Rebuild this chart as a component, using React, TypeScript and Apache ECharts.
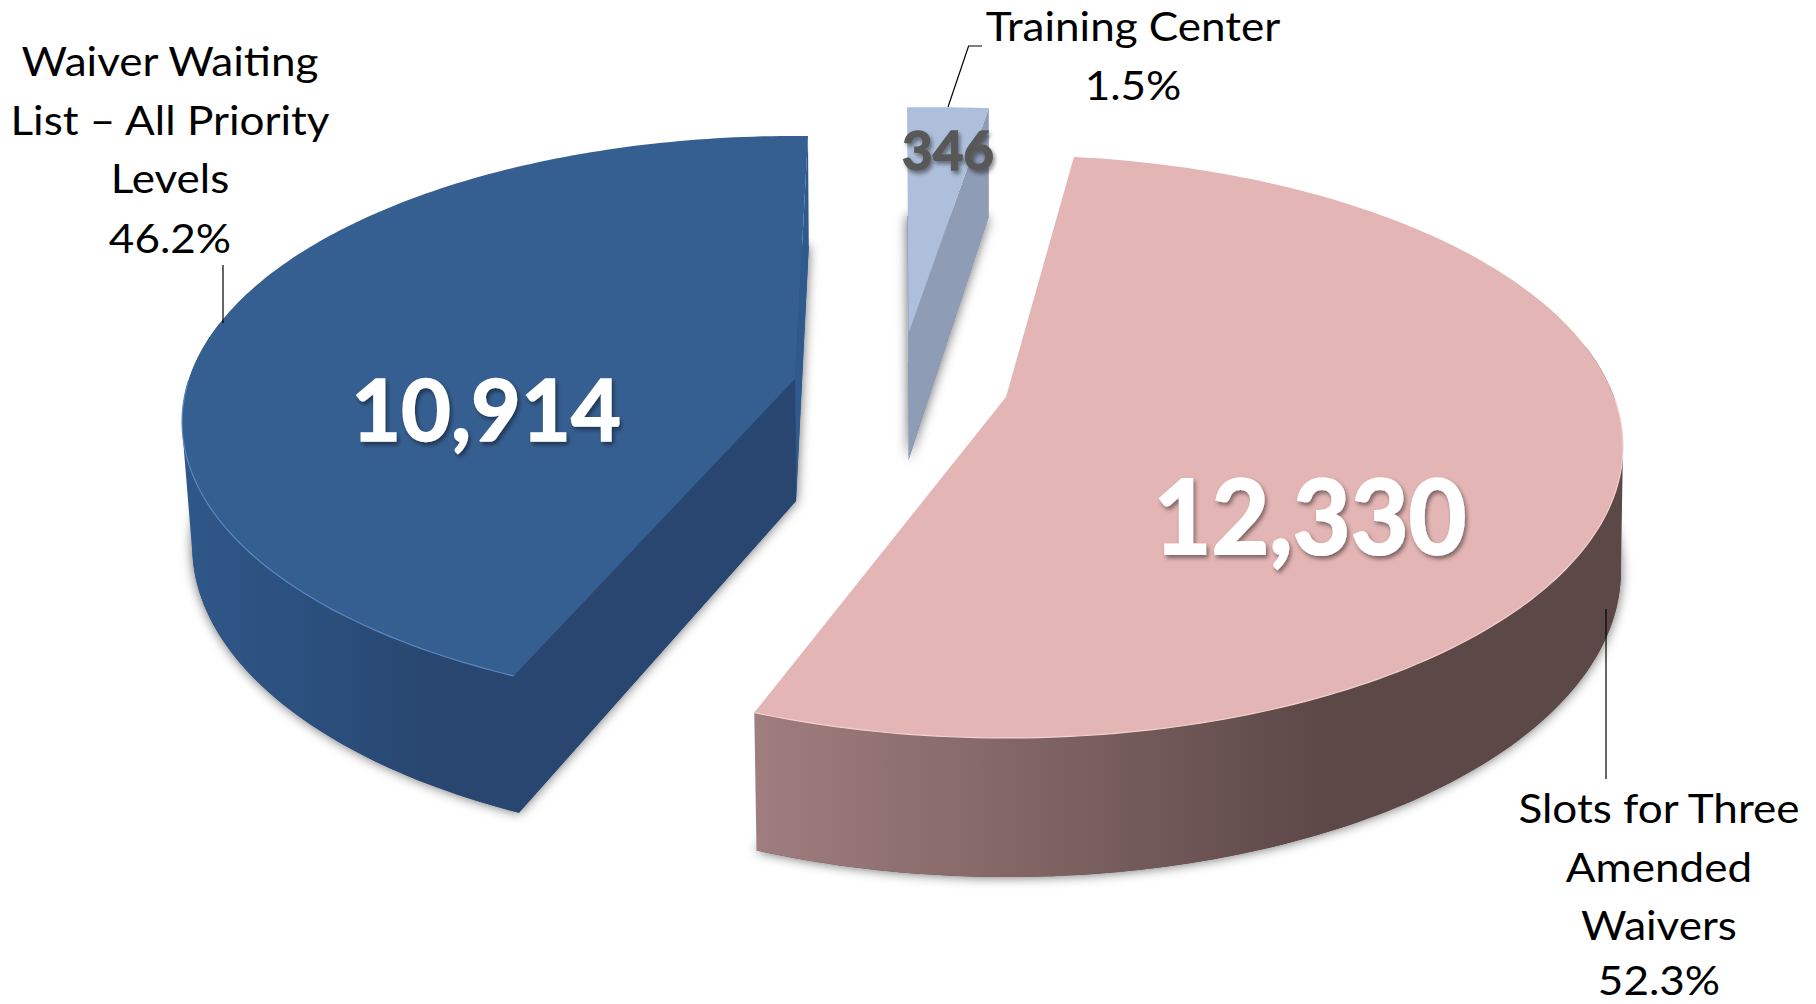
import React, { useEffect, useRef } from "react";
import * as echarts from "echarts";

const categories = ["Waiver Waiting\nList – All Priority\nLevels", "Training Center", "Slots for Three\nAmended\nWaivers"];
const values = [10914, 346, 12330];
const percents = ["46.2%", "1.5%", "52.3%"];

const total = values.reduce((a, b) => a + b, 0);

const sliceStyles = [
  {
    cx: 795, cy: 379, rx: 606, ry: 279.5, k: 0.15, start: 203.6, stretch: 0.9475,
    bx: 796, by: 501, fx: 0.985, fy: 1.05,
    top: "#365f91", rim: "#5b88c0",
    wall: ["#2f5789", "#2b4f7d", "#28466f"],
    wallStops: [0, 0.4, 0.75],
    radial: [{ at: "end", color: "#2f5a8d" }, { at: "start", color: "#28466f" }],
    value: { x: 486, y: 407, size: 86, color: "#ffffff", sx: 1, border: 1.5 },
    label: { x: 170, y: 119 }, pct: { x: 170, y: 237 },
    leader: [[223, 265], [223, 323]],
  },
  {
    cx: 908.6, cy: 333, rx: 1030, ry: 262, k: 0.16, start: -0.1, stretch: 1,
    bx: 908.6, by: 460, fx: 1, fy: 1.08,
    top: "#adbfdb", rim: "",
    wall: ["#8f9cb6", "#8f9cb6", "#8f9cb6"],
    wallStops: [0, 0.4, 0.75],
    radial: [{ at: "end", color: "#8f9cb6" }],
    value: { x: 948, y: 149, size: 54, color: "#595959", sx: 0.98, border: 1.5 },
    label: { x: 1133, y: 25 }, pct: { x: 1133, y: 84 },
    leader: [[982, 46], [968.6, 46], [948, 107]],
  },
  {
    cx: 1006, cy: 397, rx: 608, ry: 283, k: 0.17, start: 7.5, stretch: 1.025,
    bx: 1007, by: 519, fx: 0.995, fy: 1.05,
    top: "#e3b5b4", rim: "#f3d2d1",
    wall: ["#a07d7e", "#876a6a", "#5c4847"],
    wallStops: [0, 0.25, 0.66],
    radial: [],
    value: { x: 1310, y: 514, size: 104, color: "#ffffff", sx: 0.96, border: 2 },
    label: { x: 1659, y: 866 }, pct: { x: 1659, y: 979 },
    leader: [[1606, 609], [1606, 779]],
  },
];

const FONT = "Lato, 'Open Sans', sans-serif";
const LABEL_SIZE = 41;
const LABEL_SX = 1.074;

function convexHull(pts: number[][]) {
  const p = pts.slice().sort((a, b) => a[0] - b[0] || a[1] - b[1]);
  const cross = (o: number[], a: number[], b: number[]) =>
    (a[0] - o[0]) * (b[1] - o[1]) - (a[1] - o[1]) * (b[0] - o[0]);
  const lower: number[][] = [];
  for (const q of p) {
    while (lower.length >= 2 && cross(lower[lower.length - 2], lower[lower.length - 1], q) <= 0) lower.pop();
    lower.push(q);
  }
  const upper: number[][] = [];
  for (const q of p.slice().reverse()) {
    while (upper.length >= 2 && cross(upper[upper.length - 2], upper[upper.length - 1], q) <= 0) upper.pop();
    upper.push(q);
  }
  lower.pop();
  upper.pop();
  return lower.concat(upper);
}

function renderSlice(params: any, api: any) {
  const i = params.dataIndex;
  const g = sliceStyles[i];
  const val = api.value(0);
  const sweep = (val / total) * 360 * g.stretch;
  const offset = (deg: number) => {
    const t = (deg * Math.PI) / 180;
    const u = Math.sin(t);
    const v = -Math.cos(t);
    const s = 1 / (1 - g.k * v);
    return { dx: g.rx * u * s, dy: g.ry * v * s, v };
  };
  const topPt = (deg: number) => {
    const o = offset(deg);
    return [g.cx + o.dx, g.cy + o.dy];
  };
  const botPt = (deg: number) => {
    const o = offset(deg);
    return [g.bx + o.dx * g.fx, g.by + o.dy * g.fy];
  };
  const steps = Math.max(4, Math.ceil(sweep));
  const angles: number[] = [];
  for (let n = 0; n <= steps; n++) angles.push(g.start + (sweep * n) / steps);
  const end = g.start + sweep;

  const children: any[] = [];
  // shadow + bottom face
  children.push({
    type: "polygon",
    shape: { points: [[g.bx, g.by], ...angles.map(botPt)] },
    style: { fill: g.wall[2], shadowBlur: 12, shadowColor: "rgba(0,0,0,0.6)" },
  });
  // outer curved wall (front part): hull of both rims gives the true silhouette
  const front = angles.filter((a) => offset(a).v > -0.2);
  if (front.length > 1) {
    const stops = g.wall.map((c: string, n: number) => ({ offset: g.wallStops[n], color: c }));
    children.push({
      type: "polygon",
      shape: { points: convexHull([...front.map(topPt), ...front.map(botPt)]) },
      style: { fill: new echarts.graphic.LinearGradient(0, 0, 1, 0, stops) },
    });
  }
  // radial walls
  g.radial.forEach((w: any) => {
    const deg = w.at === "start" ? g.start : end;
    children.push({
      type: "polygon",
      shape: { points: [[g.cx, g.cy], topPt(deg), botPt(deg), [g.bx, g.by]] },
      style: { fill: w.color },
    });
  });
  // top face
  children.push({
    type: "polygon",
    shape: { points: [[g.cx, g.cy], ...angles.map(topPt)] },
    style: { fill: g.top },
  });
  // bevel along the front rim
  if (g.rim) {
    const rimAngles = angles.filter((a) => offset(a).v > 0);
    children.push({
      type: "polyline",
      shape: { points: rimAngles.map(topPt) },
      style: { fill: "none", stroke: g.rim, lineWidth: 1.2 },
    });
  }
  // leader line
  children.push({
    type: "polyline",
    shape: { points: g.leader },
    style: { fill: "none", stroke: "#000000", lineWidth: 1.2 },
  });
  // value label
  children.push({
    type: "text",
    x: g.value.x,
    y: g.value.y,
    scaleX: g.value.sx,
    style: {
      text: val.toLocaleString("en-US"),
      x: 0,
      y: 0,
      align: "center",
      verticalAlign: "middle",
      fontFamily: FONT,
      fontWeight: "bold",
      fontSize: g.value.size,
      fill: g.value.color,
      stroke: g.value.color,
      lineWidth: g.value.border,
      textShadowColor: "rgba(0,0,0,0.45)",
      textShadowBlur: 4,
      textShadowOffsetX: 2,
      textShadowOffsetY: 3,
    },
  });
  // category label + percent
  children.push({
    type: "text",
    x: g.label.x,
    y: g.label.y,
    scaleX: LABEL_SX,
    style: {
      text: categories[i],
      x: 0,
      y: 0,
      align: "center",
      verticalAlign: "middle",
      lineHeight: 58.5,
      fontFamily: FONT,
      fontSize: LABEL_SIZE,
      fill: "#000000",
    },
  });
  children.push({
    type: "text",
    x: g.pct.x,
    y: g.pct.y,
    scaleX: LABEL_SX,
    style: {
      text: percents[i],
      x: 0,
      y: 0,
      align: "center",
      verticalAlign: "middle",
      lineHeight: 40,
      fontFamily: FONT,
      fontSize: LABEL_SIZE,
      fill: "#000000",
    },
  });
  return { type: "group", children };
}

export default function App() {
  const ref = useRef<HTMLDivElement>(null);
  useEffect(() => {
    const chart = echarts.init(ref.current!, null, { renderer: "svg" });
    chart.setOption({
      animation: false,
      backgroundColor: "#ffffff",
      series: [
        {
          type: "custom",
          coordinateSystem: "none",
          silent: true,
          data: values.map((v) => [v]),
          renderItem: renderSlice,
          clip: false,
        },
      ],
    });
    return () => chart.dispose();
  }, []);
  return <div ref={ref} style={{ position: "fixed", left: 0, top: 0, width: 1816, height: 1004 }} />;
}
